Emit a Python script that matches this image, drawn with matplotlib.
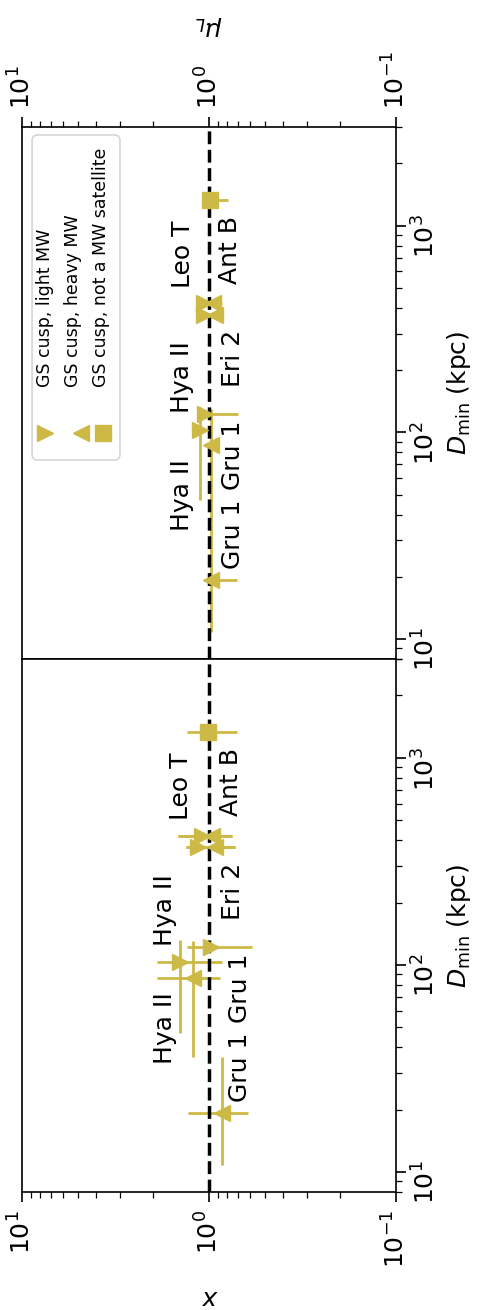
import matplotlib
matplotlib.use("Agg")
import matplotlib.pyplot as plt
from matplotlib.patches import FancyBboxPatch

# Dwarf galaxies with a GS cusp fit, for a light and a heavy Milky Way
names = ["Gru 1", "Hya II", "Eri 2", "Leo T"]

# minimum distance (kpc) and its range
d_light = [122, 103, 371, 420]
d_light_lo = [122, 47, 371, 420]
d_light_hi = [122, 132, 371, 420]
d_heavy = [19.3, 86.5, 371, 420]
d_heavy_lo = [10.8, 36, 371, 420]
d_heavy_hi = [35.9, 130, 371, 420]

# x and its range
x_light = [0.975, 1.43, 1.14, 1.09]
x_light_lo = [0.59, 0.85, 0.73, 0.75]
x_light_hi = [1.31, 1.90, 1.33, 1.46]
x_heavy = [0.85, 1.22, 0.93, 0.96]
x_heavy_lo = [0.62, 0.87, 0.73, 0.75]
x_heavy_hi = [1.29, 1.90, 1.33, 1.46]

# mu_L and its range
mu_light = [1.05, 1.12, 1.07, 1.07]
mu_light_lo = [0.70, 1.04, 0.88, 0.88]
mu_light_hi = [1.12, 1.20, 1.12, 1.12]
mu_heavy = [0.98, 0.97, 0.93, 0.95]
mu_heavy_lo = [0.71, 0.92, 0.85, 0.85]
mu_heavy_hi = [1.05, 1.02, 1.00, 1.00]

# Ant B: not a MW satellite
far_name = "Ant B"
d_far = [1334]
x_far, x_far_lo, x_far_hi = [1.01], [0.71], [1.31]
mu_far, mu_far_lo, mu_far_hi = [0.99], [0.79], [1.03]

# name labels: text, D_min, position along the value axis in each panel
label_text = ["Hya II", "Hya II", "Gru 1", "Gru 1", "Eri 2", "Leo T", "Ant B"]
label_d = [184, 49.5, 77, 32, 227, 727, 765]
label_v_x = [1.72, 1.72, 0.68, 0.68, 0.74, 1.41, 0.76]
label_v_mu = [1.39, 1.39, 0.74, 0.74, 0.74, 1.38, 0.77]

legend_labels = ["GS cusp, light MW", "GS cusp, heavy MW",
                 "GS cusp, not a MW satellite"]

color = "#cdba46"
FS = 18
MS = 12

fig = plt.figure(figsize=(4.82, 13.10), dpi=100)
W, H = 482.0, 1310.0
left, right = 22 / W, 396 / W
y_top, y_mid, y_bot = 1 - 127 / H, 1 - 659 / H, 1 - 1192 / H
ax_t = fig.add_axes([left, y_mid, right - left, y_top - y_mid])
ax_b = fig.add_axes([left, y_bot, right - left, y_mid - y_bot])


def asym(v, lo, hi):
    return [[a - b for a, b in zip(v, lo)], [c - a for a, c in zip(v, hi)]]


def panel(ax, v_l, vl_lo, vl_hi, v_h, vh_lo, vh_hi, v_f, vf_lo, vf_hi, lab_v):
    ax.errorbar(v_l, d_light, xerr=asym(v_l, vl_lo, vl_hi),
                yerr=asym(d_light, d_light_lo, d_light_hi),
                fmt=">", ms=MS, color=color, elinewidth=2, capsize=0)
    ax.errorbar(v_h, d_heavy, xerr=asym(v_h, vh_lo, vh_hi),
                yerr=asym(d_heavy, d_heavy_lo, d_heavy_hi),
                fmt="<", ms=MS, color=color, elinewidth=2, capsize=0)
    ax.errorbar(v_f, d_far, xerr=asym(v_f, vf_lo, vf_hi),
                fmt="s", ms=MS, color=color, elinewidth=2, capsize=0)
    ax.axvline(1.0, color="k", ls="--", lw=2.5, zorder=2.05)
    for t, d, v in zip(label_text, label_d, lab_v):
        ax.text(v, d, t, rotation=90, ha="center", va="center", fontsize=FS)
    ax.set_xscale("log")
    ax.set_yscale("log")
    ax.set_xlim(10, 0.1)
    ax.set_ylim(8, 3000)
    ax.yaxis.tick_right()
    ax.yaxis.set_label_position("right")
    ax.set_ylabel(r"$D_{\rm min}$ (kpc)", fontsize=FS, rotation=90, labelpad=4)
    ax.tick_params(axis="both", which="major", length=7, width=1.2,
                   labelsize=FS, pad=6)
    ax.tick_params(axis="y", which="major", pad=5)
    ax.tick_params(axis="both", which="minor", length=4, width=0.9)
    ax.tick_params(axis="x", labelrotation=90)
    ax.tick_params(axis="y", labelrotation=90)
    for s in ax.spines.values():
        s.set_linewidth(1.2)


panel(ax_b, x_light, x_light_lo, x_light_hi, x_heavy, x_heavy_lo, x_heavy_hi,
      x_far, x_far_lo, x_far_hi, label_v_x)
ax_b.set_xlabel(r"$x$", fontsize=FS, rotation=180, labelpad=12)

panel(ax_t, mu_light, mu_light_lo, mu_light_hi, mu_heavy, mu_heavy_lo,
      mu_heavy_hi, mu_far, mu_far_lo, mu_far_hi, label_v_mu)
ax_t.xaxis.tick_top()
ax_t.xaxis.set_label_position("top")
ax_t.set_xlabel(r"$\mu_L$", fontsize=FS, rotation=180, labelpad=14)

# hand-built legend with vertical text
aw, ah = 374.0, 532.0
box = FancyBboxPatch((0.027, 0.374), 0.235, 0.611,
                     boxstyle="round,pad=0,rounding_size=0.015",
                     mutation_aspect=aw / ah, transform=ax_t.transAxes,
                     facecolor="white", edgecolor="0.8", lw=1.2, alpha=0.8,
                     zorder=5)
ax_t.add_patch(box)
row_x = [0.0615, 0.136, 0.211]
for xr, lab in zip(row_x, legend_labels):
    ax_t.text(xr, 0.511, lab, rotation=90, ha="center", va="bottom",
              fontsize=12.5, transform=ax_t.transAxes, zorder=6)
for mk, xm in zip([">", "<", "s"], [0.0615, 0.158, 0.217]):
    ax_t.plot([xm], [0.425], marker=mk, ms=11, color=color, ls="none",
              transform=ax_t.transAxes, zorder=6, clip_on=False)

fig.savefig("out.png", dpi=100)
